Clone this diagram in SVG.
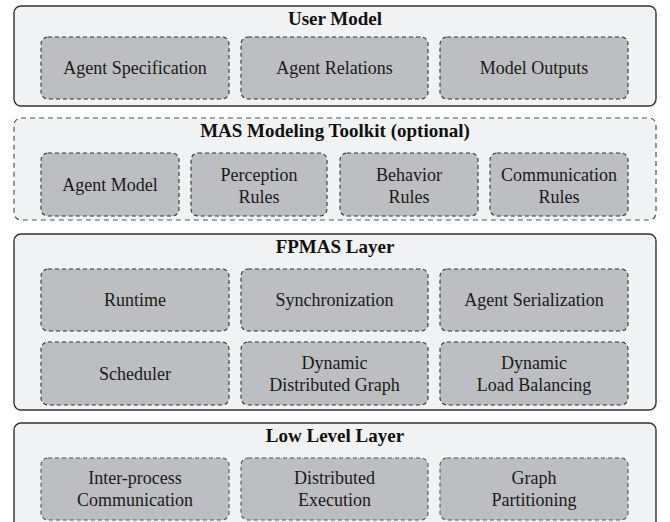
<svg xmlns="http://www.w3.org/2000/svg" width="670" height="522" viewBox="0 0 670 522">
<rect width="670" height="522" fill="#fff"/>
<g id="user-model">
<rect x="14" y="6" width="642" height="100" rx="7" fill="#f1f2f4" stroke="#333" stroke-width="1.4"/>
<text font-family="Liberation Serif" font-size="19" font-weight="bold" fill="#111" text-anchor="middle" x="335" y="25">User Model</text>
<g fill="#bdbec1" stroke="#333" stroke-width="1.1" stroke-dasharray="4 3">
<rect id="agent-specification-box" x="41" y="37" width="188" height="62" rx="7"/>
<rect id="agent-relations-box" x="241" y="37" width="187" height="62" rx="7"/>
<rect id="model-outputs-box" x="440" y="37" width="188" height="62" rx="7"/>
</g>
<g fill="#1a1a1a" text-anchor="middle">
<text id="agent-specification" font-family="Liberation Serif" font-size="18" x="135" y="74">Agent Specification</text>
<text id="agent-relations" font-family="Liberation Serif" font-size="18" x="334.5" y="74">Agent Relations</text>
<text id="model-outputs" font-family="Liberation Serif" font-size="18" x="534" y="74">Model Outputs</text>
</g>
</g>
<g id="mas-toolkit">
<rect x="14" y="118" width="642" height="102" rx="7" fill="#f1f2f4" stroke="#555" stroke-width="1.2" stroke-dasharray="5 4"/>
<text font-family="Liberation Serif" font-size="19" font-weight="bold" fill="#111" text-anchor="middle" x="335" y="137">MAS Modeling Toolkit (optional)</text>
<g fill="#bdbec1" stroke="#333" stroke-width="1.1" stroke-dasharray="4 3">
<rect id="agent-model-box" x="41" y="153" width="138" height="63" rx="7"/>
<rect id="perception-rules-box" x="191" y="153" width="136" height="63" rx="7"/>
<rect id="behavior-rules-box" x="340" y="153" width="138" height="63" rx="7"/>
<rect id="communication-rules-box" x="490" y="153" width="138" height="63" rx="7"/>
</g>
<g fill="#1a1a1a" text-anchor="middle">
<text id="agent-model" font-family="Liberation Serif" font-size="18" x="110" y="190.5">Agent Model</text>
<text font-family="Liberation Serif" font-size="18" x="259" y="181">Perception</text><text font-family="Liberation Serif" font-size="18" x="259" y="203">Rules</text>
<text font-family="Liberation Serif" font-size="18" x="409" y="181">Behavior</text><text font-family="Liberation Serif" font-size="18" x="409" y="203">Rules</text>
<text font-family="Liberation Serif" font-size="18" x="559" y="181">Communication</text><text font-family="Liberation Serif" font-size="18" x="559" y="203">Rules</text>
</g>
</g>
<g id="fpmas-layer">
<rect x="14" y="234" width="642" height="176" rx="7" fill="#f1f2f4" stroke="#333" stroke-width="1.4"/>
<text font-family="Liberation Serif" font-size="19" font-weight="bold" fill="#111" text-anchor="middle" x="335" y="253">FPMAS Layer</text>
<g fill="#bdbec1" stroke="#333" stroke-width="1.1" stroke-dasharray="4 3">
<rect id="runtime-box" x="41" y="269" width="188" height="62" rx="7"/>
<rect id="synchronization-box" x="241" y="269" width="187" height="62" rx="7"/>
<rect id="agent-serialization-box" x="440" y="269" width="188" height="62" rx="7"/>
<rect id="scheduler-box" x="41" y="342" width="188" height="63" rx="7"/>
<rect id="dynamic-distributed-graph-box" x="241" y="342" width="187" height="63" rx="7"/>
<rect id="dynamic-load-balancing-box" x="440" y="342" width="188" height="63" rx="7"/>
</g>
<g fill="#1a1a1a" text-anchor="middle">
<text font-family="Liberation Serif" font-size="18" x="135" y="306">Runtime</text>
<text font-family="Liberation Serif" font-size="18" x="334.5" y="306">Synchronization</text>
<text font-family="Liberation Serif" font-size="18" x="534" y="306">Agent Serialization</text>
<text font-family="Liberation Serif" font-size="18" x="135" y="379.5">Scheduler</text>
<text font-family="Liberation Serif" font-size="18" x="334.5" y="368.5">Dynamic</text><text font-family="Liberation Serif" font-size="18" x="334.5" y="390.5">Distributed Graph</text>
<text font-family="Liberation Serif" font-size="18" x="534" y="368.5">Dynamic</text><text font-family="Liberation Serif" font-size="18" x="534" y="390.5">Load Balancing</text>
</g>
</g>
<g id="low-level-layer">
<rect x="14" y="423" width="642" height="110" rx="7" fill="#f1f2f4" stroke="#333" stroke-width="1.4"/>
<text font-family="Liberation Serif" font-size="19" font-weight="bold" fill="#111" text-anchor="middle" x="335" y="442">Low Level Layer</text>
<g fill="#bdbec1" stroke="#555" stroke-width="1.1" stroke-dasharray="4 3">
<rect id="inter-process-communication-box" x="41" y="458" width="188" height="62" rx="7"/>
<rect id="distributed-execution-box" x="241" y="458" width="187" height="62" rx="7"/>
<rect id="graph-partitioning-box" x="440" y="458" width="188" height="62" rx="7"/>
</g>
<g fill="#1a1a1a" text-anchor="middle">
<text font-family="Liberation Serif" font-size="18" x="135" y="484">Inter-process</text><text font-family="Liberation Serif" font-size="18" x="135" y="506">Communication</text>
<text font-family="Liberation Serif" font-size="18" x="334.5" y="484">Distributed</text><text font-family="Liberation Serif" font-size="18" x="334.5" y="506">Execution</text>
<text font-family="Liberation Serif" font-size="18" x="534" y="484">Graph</text><text font-family="Liberation Serif" font-size="18" x="534" y="506">Partitioning</text>
</g>
</g>
<g id="connectors"/>
</svg>
